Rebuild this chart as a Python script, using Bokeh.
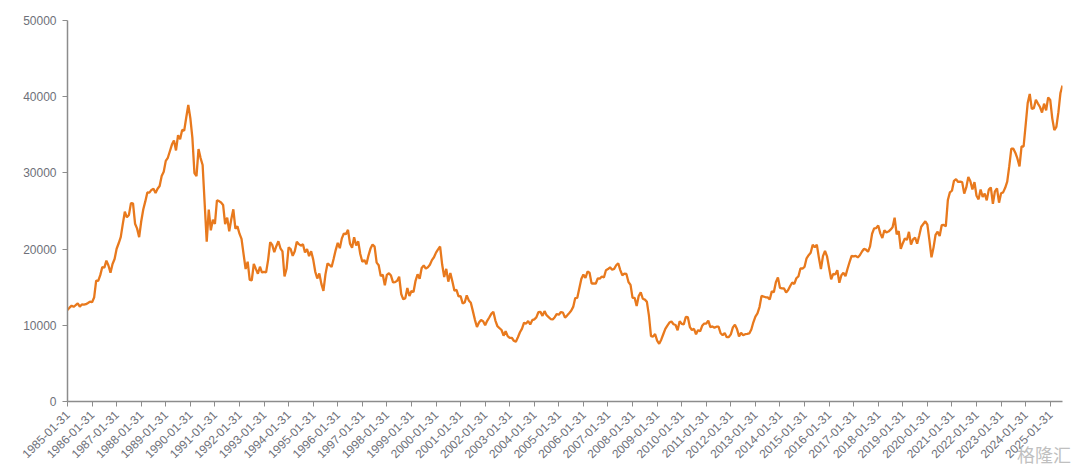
import math
import pandas as pd
from bokeh.plotting import figure
from bokeh.models import Range1d, FixedTicker, Div
from bokeh.embed import file_html
from bokeh.resources import INLINE

# Month-end closes (Jan 1985 - Jul 2025)
close_1985_1989 = [
    11992, 12322, 12580, 12426, 12646, 12882, 12456, 12737, 12700, 12765, 12930, 13113,
    13025, 13641, 15860, 15826, 16581, 17655, 17560, 18490, 17853, 16910, 18050, 18701,
    20048, 20766, 21567, 23275, 24902, 24176, 24489, 26029, 26011, 23329, 22687, 21564,
    23622, 25204, 26260, 27434, 27417, 27769, 27912, 27366, 27924, 28287, 29579, 30159,
    31581, 31986, 32839, 33713, 34267, 32949, 34954, 34431, 35637, 35549, 37269, 38916,
]
close_1990_1994 = [
    37189, 34592, 29980, 29585, 33131, 31940, 31036, 25978, 20984, 25194, 22455, 23849,
    23293, 26409, 26292, 26112, 25790, 23291, 24121, 22336, 23916, 25222, 22688, 22984,
    22023, 21339, 19346, 17391, 18348, 15952, 15910, 18061, 17399, 16767, 17685, 16925,
    17024, 16953, 18591, 20919, 20552, 19590, 20380, 21027, 20106, 19704, 16408, 17417,
    20229, 19997, 19112, 19725, 20974, 20644, 20449, 20629, 19564, 19990, 19076, 19723,
]
close_1995_1999 = [
    18650, 17053, 16140, 16807, 15437, 14517, 16678, 18117, 17913, 17654, 18744, 19868,
    20812, 20125, 21406, 22041, 21956, 22530, 20692, 20167, 21556, 20466, 21020, 19361,
    18330, 18557, 18003, 19151, 20068, 20605, 20331, 18229, 17888, 16458, 16636, 15258,
    16628, 16831, 16527, 15641, 15671, 15830, 16379, 14108, 13406, 13564, 14883, 13842,
    14499, 14368, 15837, 16701, 16112, 17530, 17862, 17437, 17605, 17942, 18558, 18934,
]
close_2000_2004 = [
    19540, 19960, 20337, 17974, 16332, 17411, 15727, 16861, 15747, 14539, 14649, 13786,
    13843, 12884, 12999, 13934, 13262, 12969, 11861, 10714, 9775, 10366, 10697, 10543,
    9997, 10588, 11025, 11493, 11764, 10622, 9877, 9619, 9383, 8640, 9216, 8579,
    8340, 8363, 7973, 7831, 8425, 9083, 9563, 10344, 10219, 10560, 10101, 10677,
    10784, 11041, 11715, 11762, 11236, 11858, 11326, 11082, 10824, 10771, 11069, 11489,
]
close_2005_2009 = [
    11388, 11741, 11669, 11009, 11277, 11584, 11900, 12414, 13574, 13607, 14872, 16111,
    16650, 16205, 17060, 16906, 15467, 15505, 15457, 16140, 16128, 16399, 16274, 17226,
    17383, 17604, 17288, 17400, 17876, 18138, 17249, 16569, 16786, 16738, 15681, 15308,
    13592, 13603, 12526, 13850, 14339, 13481, 13377, 13073, 11260, 8577, 8512, 8860,
    7994, 7568, 8110, 8828, 9523, 9958, 10357, 10493, 10133, 10035, 9346, 10546,
]
close_2010_2014 = [
    10198, 10126, 11090, 11057, 9769, 9383, 9537, 8824, 9369, 9202, 9937, 10229,
    10238, 10624, 9755, 9850, 9694, 9816, 9833, 8955, 8700, 8988, 8435, 8455,
    8803, 9723, 10084, 9521, 8543, 9007, 8695, 8840, 8870, 8928, 9446, 10395,
    11139, 11559, 12398, 13861, 13775, 13677, 13668, 13389, 14456, 14328, 15662, 16291,
    14915, 14841, 14828, 14304, 14632, 15162, 15621, 15425, 16174, 16414, 17460, 17451,
]
close_2015_2019 = [
    17674, 18798, 19207, 19520, 20563, 20236, 20585, 18890, 17388, 19083, 19747, 19034,
    17518, 16027, 16759, 16666, 17235, 15576, 16569, 16887, 16450, 17425, 18308, 19114,
    19041, 19119, 18909, 19197, 19651, 20033, 19925, 19646, 20356, 22012, 22725, 22765,
    23098, 22068, 21454, 22468, 22202, 22305, 22554, 22865, 24120, 21920, 22351, 20015,
    20773, 21385, 21206, 22259, 20601, 21276, 21522, 20704, 21756, 22927, 23294, 23657,
]
close_2020_2025 = [
    23205, 21143, 18917, 20194, 21878, 22288, 21710, 23140, 23185, 22977, 26434, 27444,
    27663, 28966, 29179, 28813, 28860, 28792, 27284, 28090, 29453, 28893, 27822, 28792,
    27002, 26527, 27821, 26848, 27280, 26393, 27802, 28092, 25937, 27587, 27969, 26095,
    27327, 27446, 28041, 28856, 30888, 33189, 33172, 32619, 31858, 30859, 33487, 33464,
    36287, 39166, 40369, 38406, 38488, 39583, 39102, 38648, 37920, 39081, 38208, 39895,
    39572, 37156, 35618, 36045, 37965, 40487, 41469,
]

values = (close_1985_1989 + close_1990_1994 + close_1995_1999 + close_2000_2004
          + close_2005_2009 + close_2010_2014 + close_2015_2019 + close_2020_2025)
dates = [d.strftime("%Y-%m-%d") for d in pd.date_range("1985-01-31", periods=len(values), freq="ME")]
idx = list(range(len(values)))

tick_idx = [i for i, d in enumerate(dates) if d[5:7] == "01"]
tick_labels = {i: dates[i] for i in tick_idx}
y_ticks = [0, 10000, 20000, 30000, 40000, 50000]

LINE = "#E8791D"
AXIS = "#8c8c8c"
TEXT = "#6E7079"
FONT = "Liberation Sans"

p = figure(width=1080, height=466, output_backend="svg", toolbar_location=None,
           x_range=Range1d(0, len(values) - 1), y_range=Range1d(0, 50000),
           min_border_left=67, min_border_right=18, min_border_top=20, min_border_bottom=65)
p.outline_line_color = None
p.grid.visible = False

p.line(idx, values, line_color=LINE, line_width=2.3)

p.xaxis.ticker = FixedTicker(ticks=tick_idx)
p.xaxis.major_label_overrides = tick_labels
p.xaxis.major_label_orientation = math.pi / 4
p.yaxis.ticker = FixedTicker(ticks=y_ticks)
p.yaxis.major_label_overrides = {v: str(v) for v in y_ticks}

for ax in (p.xaxis, p.yaxis):
    ax.axis_line_color = AXIS
    ax.axis_line_width = 1.5
    ax.major_tick_line_color = AXIS
    ax.major_tick_out = 5
    ax.major_tick_in = 0
    ax.minor_tick_line_color = None
    ax.major_label_text_color = TEXT
    ax.major_label_text_font = FONT
    ax.major_label_text_font_size = "12px"
    ax.major_label_standoff = 6

wm = Div(text="格隆汇", styles={
    "position": "absolute", "left": "1012px", "top": "438px",
    "color": "#c0c0c0", "font-size": "18px", "font-family": "Noto Sans CJK SC",
    "line-height": "22px", "z-index": "10", "pointer-events": "none",
})

open("out.html", "w").write(file_html([p, wm], INLINE))
